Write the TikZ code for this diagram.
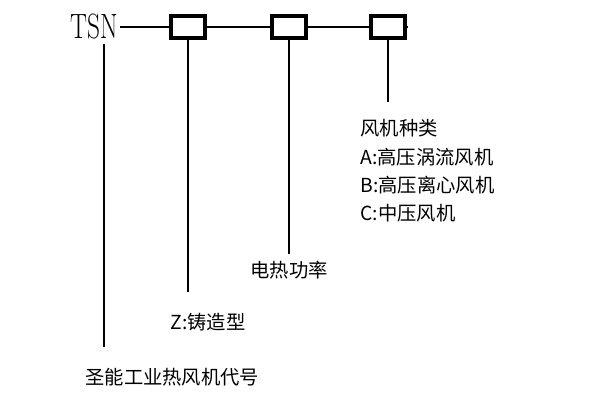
\documentclass[tikz,border=0pt]{standalone}
\usepackage{fontspec}
\newfontfamily\cjk{Noto Sans CJK SC}
\usetikzlibrary{positioning}
\begin{document}
\begin{tikzpicture}
	[ x=0.02cm, y=-0.02cm,
	  ln/.style={ line width=1.6pt },
	  bx/.style={ draw, line width=1.8pt, minimum width=0.68cm, minimum height=0.44cm, inner sep=0pt },
	  lbl/.style={ anchor=west, inner sep=0pt, font=\cjk\fontsize{11}{13}\selectfont }
	]
	\useasboundingbox (0,0) rectangle (600,401);
	\node[anchor=east, inner sep=0pt, xscale=0.72, font=\fontsize{20}{22}\selectfont] (tsn) at (118,27) {TSN};
	\node[bx] (b1) at (188,27) {};
	\node[bx] (b2) at (289,27) {};
	\node[bx] (b3) at (388,27) {};
	\coordinate (s) at (120,27);
	\coordinate (e) at (408,27);
	\draw[ln] (s) -- (b1.west) (b1.east) -- (b2.west) (b2.east) -- (b3.west) (b3.east) -- (e);
	% labels
	\node[lbl] (code) at (85,377) {圣能工业热风机代号};
	\node[lbl] (cast) at (170,322) {Z:铸造型};
	\node[lbl] (pow) at (250,270) {电热功率};
	\node[lbl] (kind) at (360,128) {风机种类};
	\node[lbl] (ka) at (360,157) {A:高压涡流风机};
	\node[lbl] (kb) at (360,185) {B:高压离心风机};
	\node[lbl] (kc) at (360,213) {C:中压风机};
	% leaders
	\coordinate (t0) at (104,44);
	\draw[ln] (t0) -- (104,347);
	\draw[ln] (b1.south) -- (188,292);
	\draw[ln] (b2.south) -- (289,254);
	\draw[ln] (b3.south) -- (388,102);
\end{tikzpicture}
\end{document}
